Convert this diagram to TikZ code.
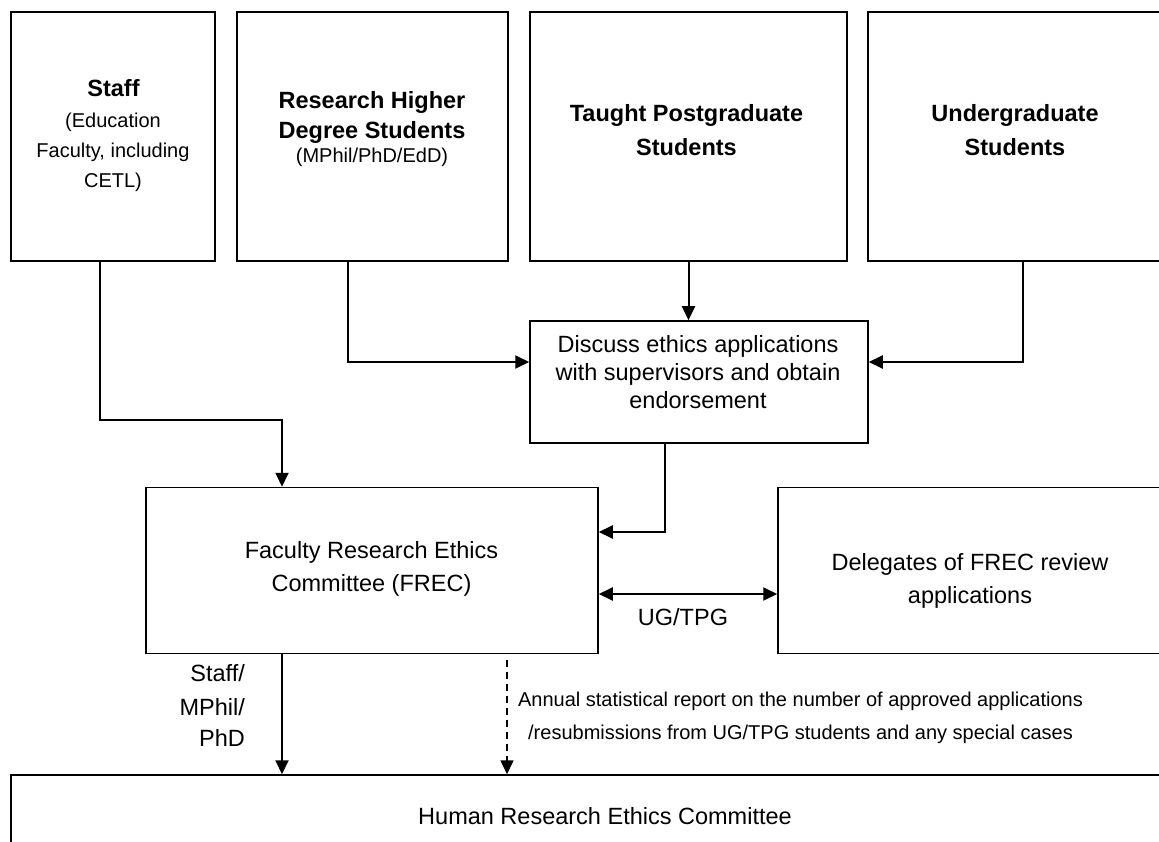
\documentclass[tikz,border=0pt]{standalone}
\usepackage{fontspec}
\setmainfont{Liberation Sans}
\usetikzlibrary{arrows.meta}
\begin{document}
\begin{tikzpicture}[x=1pt,y=-1pt,
  box/.style={draw, line width=1.5pt, inner sep=0pt, rectangle},
  big/.style={font=\fontsize{23.5}{28}\selectfont, inner sep=0pt, anchor=base},
  bigb/.style={font=\fontsize{23.5}{28}\selectfont\bfseries, inner sep=0pt, anchor=base},
  small/.style={font=\fontsize{20}{24}\selectfont, inner sep=0pt, anchor=base},
  conn/.style={line width=2pt, -{Triangle[length=14pt,width=13pt]}},
  conntwo/.style={line width=2pt, {Triangle[length=14pt,width=13pt]}-{Triangle[length=14pt,width=13pt]}},
  dashconn/.style={line width=1.6pt, dash pattern=on 7pt off 5pt, -{Triangle[length=14pt,width=13pt]}}
]
\useasboundingbox (0,0) rectangle (1159,842);
\clip (0,0) rectangle (1159,842);

% boxes
\node[box, minimum width=204pt, minimum height=249pt] (staff) at (113,136.5) {};
\node[box, minimum width=271pt, minimum height=249pt] (rhd) at (372.5,136.5) {};
\node[box, minimum width=317pt, minimum height=249pt] (tpg) at (688.5,136.5) {};
\node[box, minimum width=294pt, minimum height=249pt] (ug) at (1015,136.5) {};
\node[box, minimum width=338pt, minimum height=122pt] (discuss) at (699,382) {};
\node[box, minimum width=452pt, minimum height=166pt] (frec) at (372,570.5) {};
\node[box, minimum width=384pt, minimum height=166pt] (deleg) at (970,570.5) {};
\node[box, minimum width=1188pt, minimum height=82pt] (hrec) at (605,816) {};

% texts
\node[bigb] (staffA) at (113.5,96.4) {Staff};
\node[small] (staffB) at (113,127.2) {(Education};
\node[small] (staffC) at (113,157.2) {Faculty, including};
\node[small] (staffD) at (113,187.2) {CETL)};

\node[bigb] (rhdA) at (372,108.4) {Research Higher};
\node[bigb] (rhdB) at (372,138.4) {Degree Students};
\node[small] (rhdC) at (372,162.2) {(MPhil/PhD/EdD)};

\node[bigb] (tpgA) at (686.5,121.4) {Taught Postgraduate};
\node[bigb] (tpgB) at (686.5,155.4) {Students};

\node[bigb] (ugA) at (1015,121.4) {Undergraduate};
\node[bigb] (ugB) at (1015,155.4) {Students};

\node[big] (discA) at (698,352.4) {Discuss ethics applications};
\node[big] (discB) at (698,380.4) {with supervisors and obtain};
\node[big] (discC) at (698,408.4) {endorsement};

\node[big] (frecA) at (371.5,558.4) {Faculty Research Ethics};
\node[big] (frecB) at (371.5,591.4) {Committee (FREC)};

\node[big] (delA) at (970,570.4) {Delegates of FREC review};
\node[big] (delB) at (970,603.4) {applications};

\node[big] (ugtpg) at (683,625.4) {UG/TPG};

\node[big, anchor=base east] (smA) at (245,681.4) {Staff/};
\node[big, anchor=base east] (smB) at (245,715.4) {MPhil/};
\node[big, anchor=base east] (smC) at (245,746.4) {PhD};

\node[small] (annA) at (800.5,706.2) {Annual statistical report on the number of approved applications};
\node[small] (annB) at (800.5,739.2) {/resubmissions from UG/TPG students and any special cases};

\node[big] (hrecT) at (605,824.4) {Human Research Ethics Committee};

% connector points
\coordinate (s1) at (100,420);
\coordinate (s2) at (282,420);
\coordinate (r1) at (348,362);
\coordinate (u1) at (1023,362);
\coordinate (d1) at (665,532);
\coordinate (b1) at (688,594);
\coordinate (a1) at (507,660);

% connectors
\draw[conn] (staff.south -| s1) -- (s1) -- (s2) -- (frec.north -| s2);
\draw[conn] (rhd.south -| r1) -- (r1) -- (discuss.west |- r1);
\draw[conn] (tpg.south) -- (discuss.north -| tpg.south);
\draw[conn] (ug.south -| u1) -- (u1) -- (discuss.east |- u1);
\draw[conn] (discuss.south -| d1) -- (d1) -- (frec.east |- d1);
\draw[conntwo] (frec.east |- b1) -- (deleg.west |- b1);
\draw[conn] (frec.south -| s2) -- (hrec.north -| s2);
\draw[dashconn] (a1) -- (hrec.north -| a1);
\end{tikzpicture}
\end{document}
